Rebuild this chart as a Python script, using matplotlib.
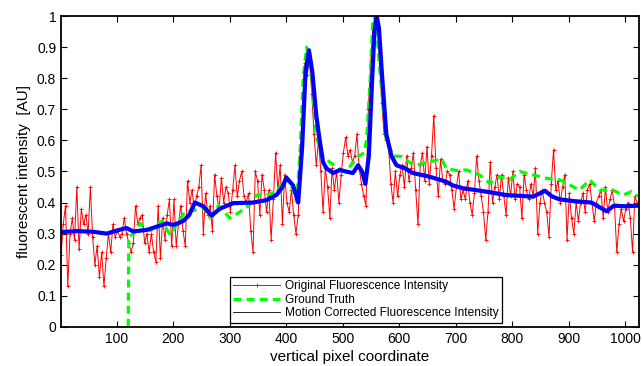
import matplotlib.pyplot as plt
import numpy as np
from matplotlib.lines import Line2D

plt.rcParams['font.family'] = ['Liberation Sans', 'DejaVu Sans']

# original (noisy) intensity, one value every 4 pixels starting at pixel 1
orig_x = np.arange(1, 1025, 4)
orig_y = [
    0.23, 0.33, 0.39, 0.13, 0.30, 0.35, 0.28, 0.45, 0.25, 0.38, 0.33, 0.36, 0.30, 0.45, 0.29, 0.20,
    0.26, 0.16, 0.24, 0.13, 0.22, 0.30, 0.24, 0.33, 0.29, 0.31, 0.29, 0.30, 0.35, 0.30, 0.27, 0.24,
    0.27, 0.39, 0.33, 0.35, 0.36, 0.27, 0.30, 0.24, 0.30, 0.24, 0.21, 0.39, 0.22, 0.35, 0.28, 0.36,
    0.41, 0.26, 0.41, 0.26, 0.33, 0.39, 0.31, 0.26, 0.47, 0.40, 0.44, 0.38, 0.42, 0.45, 0.52, 0.30,
    0.43, 0.36, 0.39, 0.31, 0.49, 0.42, 0.38, 0.48, 0.40, 0.45, 0.43, 0.37, 0.44, 0.52, 0.42, 0.47,
    0.50, 0.42, 0.40, 0.43, 0.31, 0.24, 0.50, 0.47, 0.36, 0.49, 0.44, 0.37, 0.44, 0.28, 0.41, 0.56,
    0.44, 0.52, 0.33, 0.49, 0.40, 0.37, 0.44, 0.36, 0.30, 0.36, 0.55, 0.70, 0.85, 0.81, 0.86, 0.75,
    0.62, 0.52, 0.60, 0.50, 0.37, 0.51, 0.45, 0.35, 0.51, 0.44, 0.50, 0.40, 0.49, 0.56, 0.61, 0.55,
    0.57, 0.53, 0.55, 0.62, 0.51, 0.46, 0.42, 0.39, 0.70, 0.84, 0.96, 1.00, 0.97, 0.85, 0.72, 0.62,
    0.60, 0.58, 0.46, 0.40, 0.50, 0.42, 0.49, 0.52, 0.45, 0.55, 0.47, 0.51, 0.56, 0.44, 0.33, 0.52,
    0.56, 0.47, 0.58, 0.46, 0.55, 0.68, 0.51, 0.42, 0.54, 0.47, 0.46, 0.50, 0.49, 0.44, 0.38, 0.45,
    0.50, 0.41, 0.44, 0.41, 0.47, 0.40, 0.36, 0.43, 0.55, 0.47, 0.42, 0.37, 0.28, 0.37, 0.53, 0.40,
    0.45, 0.49, 0.41, 0.49, 0.42, 0.36, 0.48, 0.42, 0.50, 0.41, 0.46, 0.45, 0.35, 0.49, 0.44, 0.41,
    0.46, 0.42, 0.51, 0.30, 0.40, 0.44, 0.40, 0.37, 0.29, 0.46, 0.57, 0.44, 0.47, 0.40, 0.45, 0.49,
    0.28, 0.43, 0.35, 0.30, 0.40, 0.34, 0.40, 0.43, 0.37, 0.44, 0.46, 0.40, 0.34, 0.40, 0.42, 0.44,
    0.35, 0.45, 0.37, 0.41, 0.44, 0.39, 0.24, 0.33, 0.38, 0.34, 0.38, 0.40, 0.35, 0.24, 0.42, 0.40,
]

# ground truth
truth_x = [120, 121, 130, 141, 150, 160, 170, 180, 194, 210, 220, 241, 255, 265, 280, 300, 318,
           335, 347, 365, 383, 400, 412, 418, 424, 430, 436, 445, 453, 465, 477, 489, 500, 512,
           527, 538, 542, 548, 553, 556, 560, 565, 577, 590, 604, 621, 630, 651, 675, 683, 701,
           719, 742, 760, 778, 795, 813, 837, 860, 884, 896, 919, 937, 955, 978, 996, 1011, 1022]
truth_y = [0.0, 0.29, 0.30, 0.333, 0.315, 0.31, 0.33, 0.34, 0.296, 0.34, 0.37, 0.376, 0.38, 0.35,
           0.39, 0.35, 0.37, 0.392, 0.424, 0.424, 0.435, 0.483, 0.44, 0.403, 0.55, 0.805, 0.90,
           0.805, 0.61, 0.548, 0.53, 0.515, 0.50, 0.515, 0.548, 0.56, 0.60, 0.78, 0.987, 1.0, 0.95,
           0.837, 0.60, 0.55, 0.548, 0.526, 0.52, 0.53, 0.54, 0.51, 0.503, 0.505, 0.489, 0.462,
           0.483, 0.473, 0.50, 0.489, 0.478, 0.473, 0.462, 0.44, 0.473, 0.44, 0.44, 0.424, 0.435,
           0.419]

# motion corrected
corr_x = [1, 30, 58, 82, 100, 117, 129, 153, 170, 188, 200, 217, 228, 238, 253, 268, 282, 306,
          341, 365, 383, 393, 400, 412, 421, 428, 434, 440, 446, 453, 459, 465, 471, 483, 495, 505,
          518, 527, 534, 540, 546, 552, 556, 560, 564, 569, 577, 586, 595, 610, 624, 654, 683, 695,
          713, 754, 790, 837, 858, 870, 884, 907, 940, 967, 980, 1000, 1024]
corr_y = [0.305, 0.308, 0.306, 0.30, 0.31, 0.318, 0.307, 0.312, 0.322, 0.333, 0.328, 0.34, 0.36,
          0.40, 0.388, 0.358, 0.38, 0.398, 0.40, 0.408, 0.425, 0.45, 0.48, 0.455, 0.40, 0.58, 0.82,
          0.89, 0.82, 0.68, 0.60, 0.53, 0.51, 0.495, 0.505, 0.50, 0.495, 0.52, 0.50, 0.46, 0.55,
          0.80, 0.95, 1.0, 0.96, 0.82, 0.62, 0.55, 0.52, 0.51, 0.495, 0.483, 0.467, 0.455, 0.446,
          0.435, 0.424, 0.419, 0.438, 0.42, 0.41, 0.405, 0.40, 0.372, 0.39, 0.388, 0.39]

fig = plt.figure(figsize=(6.42, 3.66), dpi=100)
ax = fig.add_axes([0.095, 0.107, 0.9, 0.849])

ax.plot(orig_x, orig_y, color='red', lw=0.7, marker='+', ms=2.5, mew=0.6)
ax.plot(truth_x, truth_y, color=(0, 1, 0), lw=2.3, dashes=(2.5, 1.6))
ax.plot(corr_x, corr_y, color='blue', lw=3)

ax.set_xlim(1, 1024)
ax.set_ylim(0, 1)
ax.set_xticks(range(100, 1001, 100))
ax.set_yticks(np.arange(0, 1.01, 0.1))
ax.set_yticklabels(['0', '0.1', '0.2', '0.3', '0.4', '0.5', '0.6', '0.7', '0.8', '0.9', '1'])
ax.tick_params(direction='in', top=True, right=True, length=4, width=0.8, labelsize=10)
for s in ax.spines.values():
    s.set_linewidth(1.3)

ax.set_xlabel('vertical pixel coordinate', fontsize=11, labelpad=3)
ax.set_ylabel('fluorescent intensity  [AU]', fontsize=11, labelpad=4)

handles = [
    Line2D([], [], color='red', lw=0.7, marker='+', ms=2.5, mew=0.6),
    Line2D([], [], color=(0, 1, 0), lw=2.3, dashes=(2.5, 1.6)),
    Line2D([], [], color='black', lw=0.6),
]
labels = ['Original Fluorescence Intensity', 'Ground Truth',
          'Motion Corrected Fluorescence Intensity']
leg = ax.legend(handles, labels, loc='lower left', bbox_to_anchor=(0.292, 0.013),
                borderaxespad=0, fontsize=8.6, handlelength=3.9, handletextpad=0.4,
                labelspacing=0.12, borderpad=0.3, fancybox=False, framealpha=1)
leg.get_frame().set_edgecolor('black')
leg.get_frame().set_linewidth(0.9)

fig.savefig('out.png', dpi=100)
